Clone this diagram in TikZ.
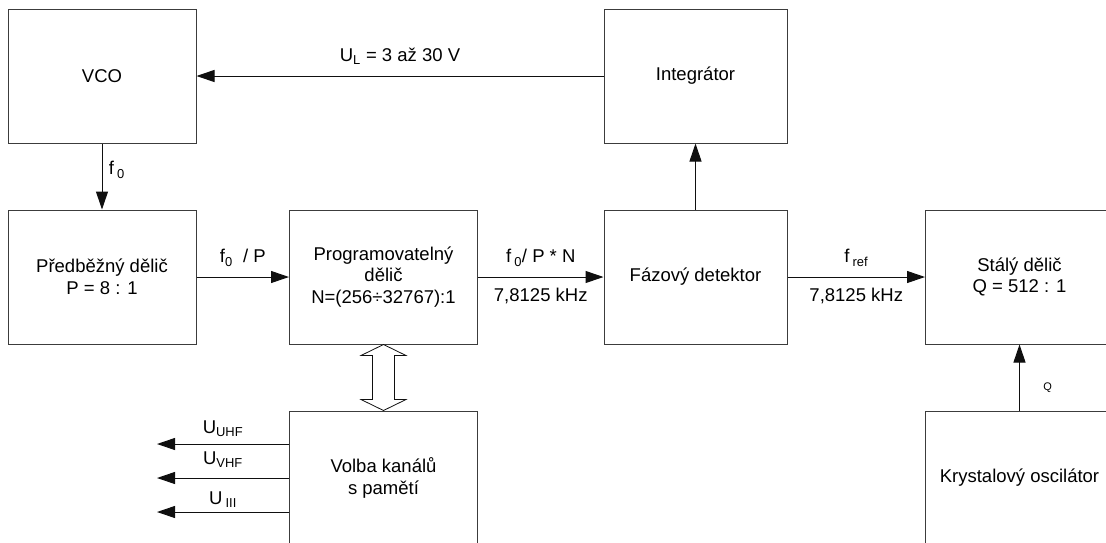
\documentclass[tikz,border=0pt]{standalone}
\usepackage{fontspec}
\setmainfont{Liberation Sans}
\usepackage{tikz}
\usetikzlibrary{arrows.meta,calc}
\definecolor{box_gray}{RGB}{60,60,60}
\definecolor{wire_black}{RGB}{15,15,15}

\begin{document}
\begin{tikzpicture}[->,x=1pt,y=-1pt,line width=1pt,>={Triangle[length=18pt,width=12pt]}]
    \tikzstyle{label}=[text=black,font=\fontsize{18.5}{21.5}\selectfont]
    \tikzstyle{small}=[text=black,font=\fontsize{11}{13}\selectfont]
    \tikzstyle{block}=[draw=box_gray, rectangle, minimum width=188pt, minimum height=134pt, align=center, text=black, font=\fontsize{18.5}{21.5}\selectfont]
    \tikzstyle{blocknarrow}=[style=block, minimum width=183pt]

    \useasboundingbox (0,0) rectangle (1106,542);
    \clip (0,0) rectangle (1106,542);

    \node[block] (vco) at (102,76) {VCO};
    \node[blocknarrow] (integ) at (695.5,76) {Integrátor};
    \node[block] (pre) at (102,277) {Předběžný dělič\\P = 8 : 1};
    \node[block] (prog) at (383.5,277) {Programovatelný\\dělič\\N=(256÷32767):1};
    \node[blocknarrow] (faz) at (695.5,277) {Fázový detektor};
    \node[block] (staly) at (1019.5,277) {Stálý dělič\\Q = 512 : 1};
    \node[block] (volba) at (383.5,478) {Volba kanálů\\s pamětí};
    \node[block] (kryst) at (1019.5,478) {Krystalový oscilátor};

    \coordinate (uhf) at (157,444);
    \coordinate (vhf) at (157,478);
    \coordinate (uiii) at (157,512);

    \path[every edge/.append style={draw=wire_black},every node/.style={label}]
     (integ) edge node[above=8pt] {U\textsubscript{L} = 3 až 30 V} (vco)
     (vco) edge node[right=3pt, pos=0.4] {f\,\textsubscript{0}} (pre)
     (pre) edge node[above=7pt] {f\textsubscript{0}~ / P} (prog)
     (prog) edge node[above=7pt] {f\,\textsubscript{0}/ P * N} node[below=7pt] {7,8125 kHz} (faz)
     (faz) edge (integ)
     (faz) edge node[above=7pt] {f\,\textsubscript{ref}} node[below=7pt] {7,8125 kHz} (staly)
     (kryst) edge node[small, right=20pt, pos=0.35] {Q} (staly);

    \path[every edge/.append style={draw=wire_black},every node/.style={label}]
     (volba.west |- uhf) edge node[above=4pt] {U\textsubscript{UHF}} (uhf)
     (volba.west |- vhf) edge node[above=7pt] {U\textsubscript{VHF}} (vhf)
     (volba.west |- uiii) edge node[above=1pt] {U\,\textsubscript{III}} (uiii);

%   bus between programming and channel memory
    \draw[-, draw=wire_black, line width=0.8pt, fill=white] (prog.south) -- ++(22.5,11) -- ++(-11.5,0)
      -- ($(volba.north)+(11,-11)$) -- ++(11.5,0) -- (volba.north) -- ++(-22.5,-11) -- ++(11.5,0)
      -- ($(prog.south)+(-11,11)$) -- ++(-11.5,0) -- cycle;
\end{tikzpicture}
\end{document}
